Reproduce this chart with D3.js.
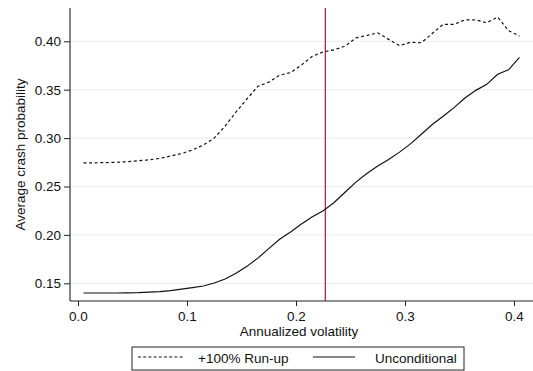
<!DOCTYPE html>
<html>
<head>
<meta charset="utf-8">
<script src="https://cdn.jsdelivr.net/npm/d3@7/dist/d3.min.js"></script>
<style>
  html, body { margin: 0; padding: 0; background: #fff; }
  svg { display: block; font-family: "Liberation Sans", Arial, Helvetica, sans-serif; }
</style>
</head>
<body>
<svg id="chart" width="533" height="371"></svg>
<script>
// Data
const volatility = [0.005, 0.015, 0.025, 0.035, 0.045, 0.055, 0.065, 0.075, 0.085, 0.095,
  0.105, 0.115, 0.125, 0.135, 0.145, 0.155, 0.165, 0.175, 0.185, 0.195,
  0.205, 0.215, 0.225, 0.235, 0.245, 0.255, 0.265, 0.275, 0.285, 0.295,
  0.305, 0.315, 0.325, 0.335, 0.345, 0.355, 0.365, 0.375, 0.385, 0.395, 0.405];

const runUp = [0.2745, 0.2745, 0.2747, 0.2750, 0.2756, 0.2765, 0.2775, 0.2790, 0.2815, 0.2840,
  0.2878, 0.2929, 0.3000, 0.3125, 0.3270, 0.3405, 0.3535, 0.3578, 0.3650, 0.3676,
  0.3755, 0.3845, 0.3890, 0.3912, 0.3950, 0.4035, 0.4060, 0.4088, 0.4020, 0.3955,
  0.3990, 0.3985, 0.4080, 0.4175, 0.4175, 0.4222, 0.4220, 0.4192, 0.4250, 0.4110, 0.4055];

const unconditional = [0.1400, 0.1400, 0.1400, 0.1400, 0.1401, 0.1403, 0.1408, 0.1415, 0.1425, 0.1440,
  0.1455, 0.1472, 0.1503, 0.1545, 0.1603, 0.1675, 0.1760, 0.1858, 0.1955, 0.2030,
  0.2112, 0.2188, 0.2250, 0.2335, 0.2440, 0.2545, 0.2635, 0.2712, 0.2778, 0.2855,
  0.2940, 0.3040, 0.3140, 0.3225, 0.3315, 0.3415, 0.3493, 0.3555, 0.3660, 0.3705, 0.3835];

const xTicks = [0.0, 0.1, 0.2, 0.3, 0.4];
const xTickLabels = ["0.0", "0.1", "0.2", "0.3", "0.4"];
const yTicks = [0.15, 0.20, 0.25, 0.30, 0.35, 0.40];
const yTickLabels = ["0.15", "0.20", "0.25", "0.30", "0.35", "0.40"];
const referenceVol = 0.2269;
const seriesNames = ["+100% Run-up", "Unconditional"];

const svg = d3.select("#chart");
const pLeft = 70, pRight = 533, pTop = 8, pBottom = 301;
const fs = "13.5px";

// scales calibrated on tick positions, extended to the plot frame
const x = d3.scaleLinear().domain([0, 0.4]).range([78, 514]);
x.domain([x.invert(pLeft), x.invert(pRight)]).range([pLeft, pRight]);
const y = d3.scaleLinear().domain([0.15, 0.40]).range([283.3, 41.3]);
y.domain([y.invert(pBottom), y.invert(pTop)]).range([pBottom, pTop]);

// gridlines
svg.append("g").selectAll("line").data(yTicks).join("line")
  .attr("x1", pLeft).attr("x2", pRight)
  .attr("y1", d => y(d)).attr("y2", d => y(d))
  .attr("stroke", "#e4eef0").attr("stroke-width", 1);

// y axis
const yAxis = d3.axisLeft(y).tickValues(yTicks).tickSize(6).tickPadding(3)
  .tickFormat((d, i) => yTickLabels[i]);
const gy = svg.append("g").attr("transform", `translate(${pLeft},0)`).call(yAxis);
gy.select(".domain").remove();
gy.selectAll(".tick line").attr("stroke", "#222");
gy.selectAll(".tick text").attr("font-size", fs).attr("fill", "#111")
  .attr("font-family", "Liberation Sans, Arial, sans-serif");
svg.append("line").attr("x1", pLeft).attr("x2", pLeft).attr("y1", pTop).attr("y2", pBottom)
  .attr("stroke", "#222").attr("stroke-width", 1.1);

// x axis
const xAxis = d3.axisBottom(x).tickValues(xTicks).tickSize(5).tickPadding(5)
  .tickFormat((d, i) => xTickLabels[i]);
const gx = svg.append("g").attr("transform", `translate(0,${pBottom})`).call(xAxis);
gx.select(".domain").remove();
gx.selectAll(".tick line").attr("stroke", "#222");
gx.selectAll(".tick text").attr("font-size", fs).attr("fill", "#111")
  .attr("font-family", "Liberation Sans, Arial, sans-serif");
svg.append("line").attr("x1", pLeft).attr("x2", pRight).attr("y1", pBottom).attr("y2", pBottom)
  .attr("stroke", "#222").attr("stroke-width", 1.1);

// reference vertical line
svg.append("line")
  .attr("x1", x(referenceVol)).attr("x2", x(referenceVol))
  .attr("y1", pTop).attr("y2", pBottom)
  .attr("stroke", "#b3123c").attr("stroke-width", 1.2);

// series
const line = d3.line().x((d, i) => x(volatility[i])).y(d => y(d));
svg.append("path").datum(runUp).attr("d", line)
  .attr("fill", "none").attr("stroke", "#111").attr("stroke-width", 1.2)
  .attr("stroke-dasharray", "3,2.6");
svg.append("path").datum(unconditional).attr("d", line)
  .attr("fill", "none").attr("stroke", "#111").attr("stroke-width", 1.2);

// axis titles
svg.append("text").attr("x", 299).attr("y", 335.5).attr("text-anchor", "middle")
  .attr("font-size", fs).attr("fill", "#111").text("Annualized volatility");
svg.append("text").attr("transform", `translate(24.5,${(pTop + pBottom) / 2}) rotate(-90)`)
  .attr("text-anchor", "middle").attr("font-size", fs).attr("fill", "#111")
  .text("Average crash probability");

// legend
const lg = svg.append("g");
lg.append("rect").attr("x", 132).attr("y", 347).attr("width", 332).attr("height", 23)
  .attr("fill", "#fff").attr("stroke", "#222").attr("stroke-width", 1);
lg.append("line").attr("x1", 138).attr("x2", 184).attr("y1", 357).attr("y2", 357)
  .attr("stroke", "#111").attr("stroke-width", 1.1).attr("stroke-dasharray", "3,2.2");
lg.append("text").attr("x", 198).attr("y", 362.5).attr("font-size", fs).attr("fill", "#111")
  .text(seriesNames[0]);
lg.append("line").attr("x1", 313).attr("x2", 355).attr("y1", 357).attr("y2", 357)
  .attr("stroke", "#111").attr("stroke-width", 1.1);
lg.append("text").attr("x", 375).attr("y", 362.5).attr("font-size", fs).attr("fill", "#111")
  .text(seriesNames[1]);
</script>
</body>
</html>
